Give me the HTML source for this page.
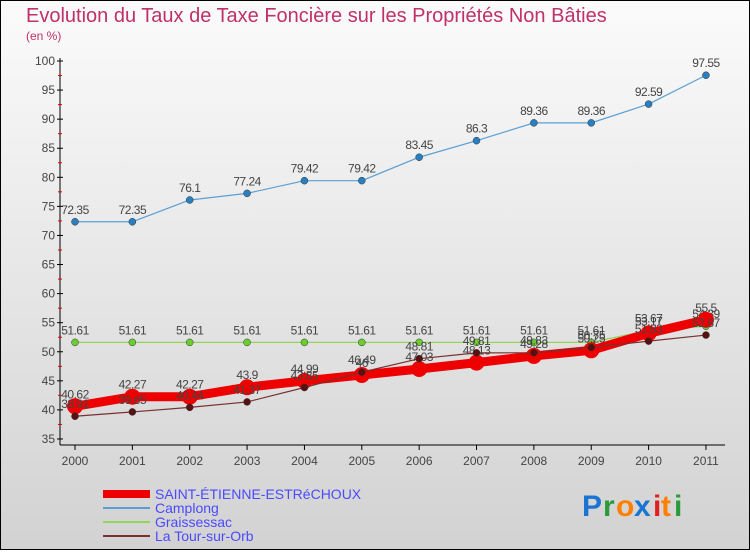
<!DOCTYPE html>
<html><head><meta charset="utf-8"><style>
body{margin:0;width:750px;height:550px;overflow:hidden;font-family:"Liberation Sans",sans-serif}
svg text{font-family:"Liberation Sans",sans-serif}
</style></head><body>
<svg width="750" height="550" xmlns="http://www.w3.org/2000/svg">
<defs><linearGradient id="bg" x1="0" y1="0" x2="0" y2="1"><stop offset="0" stop-color="#fbfbfb"/><stop offset="1" stop-color="#d2d2d2"/></linearGradient></defs>
<rect x="0.5" y="0.5" width="749" height="549" fill="url(#bg)" stroke="#000"/>
<text x="26" y="22" font-size="20" fill="#c0306a">Evolution du Taux de Taxe Foncière sur les Propriétés Non Bâties</text>
<text x="26" y="40" font-size="12" fill="#c0306a">(en %)</text>
<g id="axes"></g><g id="series"></g><g id="legend"></g>
<g font-size="30" font-weight="bold" font-family="Liberation Sans">
<text x="582" y="516" fill="#1a75d2">P</text><text x="603" y="516" fill="#2a9a3a">r</text><text x="616" y="516" fill="#ff8000">o</text><text x="634" y="516" fill="#1a75d2">x</text><text x="653" y="516" fill="#e02020">i</text><text x="661" y="516" fill="#ff8000">t</text><text x="674" y="516" fill="#2a9a3a">i</text>
</g>
</svg>
<script>
const years=["2000","2001","2002","2003","2004","2005","2006","2007","2008","2009","2010","2011"];
const yTicks=[35,40,45,50,55,60,65,70,75,80,85,90,95,100];
const seriesNames=["SAINT-ÉTIENNE-ESTRéCHOUX","Camplong","Graissessac","La Tour-sur-Orb"];
const stEtienne=[40.62,42.27,42.27,43.9,44.99,46,47.03,48.13,49.28,50.25,53.17,55.5];
const camplong=[72.35,72.35,76.1,77.24,79.42,79.42,83.45,86.3,89.36,89.36,92.59,97.55];
const graissessac=[51.61,51.61,51.61,51.61,51.61,51.61,51.61,51.61,51.61,51.61,53.67,54.39];
const tourSurOrb=[38.91,39.65,40.44,41.37,43.85,46.49,48.81,49.81,49.83,50.75,51.83,52.87];
const NS="http://www.w3.org/2000/svg";
const X=i=>75+i*57.36, Y=v=>61+(100-v)*5.815;
function mk(t,a,p){const e=document.createElementNS(NS,t);for(const k in a)e.setAttribute(k,a[k]);p.appendChild(e);return e;}
const ax=document.getElementById('axes');
let l=mk('line',{x1:60,y1:58,x2:60,y2:445,stroke:'#000'},ax);


l=mk('line',{x1:60,y1:445,x2:725,y2:445,stroke:'#000'},ax);


yTicks.forEach(v=>{
 mk('line',{x1:57,y1:Y(v),x2:63,y2:Y(v),stroke:'#000'},ax);
 if(v<100)mk('line',{x1:58,y1:Y(v+2.5),x2:62,y2:Y(v+2.5),stroke:'#e00000'},ax);
 const t=mk('text',{x:55,y:Y(v)+4,'font-size':12,'text-anchor':'end',fill:'#444'},ax);t.textContent=v;
 
 
});
years.forEach((y,i)=>{
 mk('line',{x1:X(i),y1:445,x2:X(i),y2:450,stroke:'#000'},ax);
 const t=mk('text',{x:X(i),y:465,'font-size':12,'text-anchor':'middle',fill:'#444'},ax);t.textContent=y;
 
 
});
const sg=document.getElementById('series');
const defs=[[camplong,'#5a9fd4','#2a7fc0',1.2,3.5],[graissessac,'#8fd65a','#6ccc30',1.2,3.5],[stEtienne,'#ee0000','#ee0000',9,8],[tourSurOrb,'#7a3030','#5a1010',1.2,3.5]];
const order=[2,0,1,3];
defs.forEach((d,k)=>{
 const [vals,lc,pc,w,r]=d;
 const g=mk('g',{},sg);
 
 
 mk('polyline',{points:vals.map((v,i)=>X(i)+','+Y(v)).join(' '),fill:'none',stroke:lc,'stroke-width':w,'stroke-linejoin':'round'},g);
 vals.forEach((v,i)=>{
  const c=mk('circle',{cx:X(i),cy:Y(v),r:r,fill:pc,stroke:k==2?'none':'#333','stroke-width':0.5},g);
  
  
  const t=mk('text',{x:X(i),y:Y(v)-8,'font-size':12,'text-anchor':'middle',fill:'#444','letter-spacing':'-0.5'},g);t.textContent=v;
 });
});
const lg=document.getElementById('legend');
const lc=[['#ee0000',8],['#5a9fd4',2],['#8fd65a',2],['#7a3030',2]];
seriesNames.forEach((n,i)=>{
 const y=494+i*14;
 const g=mk('g',{},lg);
 
 
 mk('line',{x1:103,y1:y,x2:150,y2:y,stroke:lc[i][0],'stroke-width':lc[i][1]},g);
 const t=mk('text',{x:155,y:y+5,'font-size':14,fill:'#4a4aff'},g);t.textContent=n;
});
</script>
</body></html>
